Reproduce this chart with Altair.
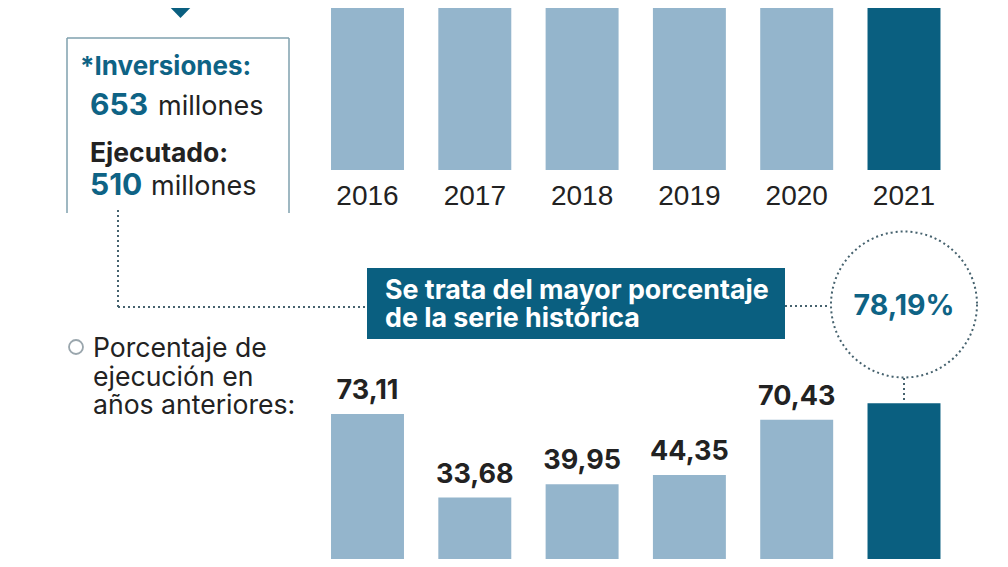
import altair as alt
import pandas as pd

# ---------------- data ----------------
years = ["2016", "2017", "2018", "2019", "2020", "2021"]
ejecucion = [73.11, 33.68, 39.95, 44.35, 70.43, 78.19]
ejec_labels = ["73,11", "33,68", "39,95", "44,35", "70,43", ""]
inversion = [650, 600, 640, 660, 640, 653]  # top bars are cut off in the picture (estimates)
tipo = ["anterior", "anterior", "anterior", "anterior", "anterior", "actual"]

LIGHT = "#94b5cc"
DARK = "#0a5f80"
TEAL = "#0e6385"
INK = "#222222"
DOT = "#46626e"
BOX = "#7fa0ae"

df = pd.DataFrame({"year": years, "ejec": ejecucion, "label": ejec_labels,
                   "inv": inversion, "tipo": tipo})

xscale = alt.Scale(type="band", domain=years, range=[305.85, 949.65],
                   paddingInner=0.32, paddingOuter=0.16, round=False)
yb_scale = alt.Scale(domain=[0, 80], range=[561, 391.4], zero=True, nice=False)
yt_scale = alt.Scale(domain=[0, 600], range=[162, -7], zero=True, nice=False)
color = alt.Color("tipo:N", scale=alt.Scale(domain=["anterior", "actual"], range=[LIGHT, DARK]), legend=None)
X = alt.X("year:N", scale=xscale, axis=None)

base = alt.Chart(df)

top_bars = base.mark_bar().encode(
    x=X, y=alt.Y("inv:Q", scale=yt_scale, axis=None), color=color)

year_text = base.mark_text(font="Liberation Sans", fontSize=28, color=INK,
                           baseline="alphabetic", align="center").encode(
    x=X, y=alt.value(197), text="year:N")

bottom_bars = base.mark_bar().encode(
    x=X, y=alt.Y("ejec:Q", scale=yb_scale, axis=None), color=color)

value_text = base.transform_filter(alt.datum.label != "").mark_text(
    font="Inter", fontWeight="bold", fontSize=27, color=INK,
    baseline="alphabetic", align="center", dy=-15).encode(
    x=X, y=alt.Y("ejec:Q", scale=yb_scale, axis=None), text="label:N")

last = base.transform_filter(alt.datum.tipo == "actual")
circle = last.mark_point(shape="circle", size=21316, filled=False, stroke=DOT,
                         strokeWidth=2, strokeDash=[2, 3], opacity=1).encode(
    x=X, y=alt.value(296.5))
pct_text = last.mark_text(font="Inter", fontWeight="bold", fontSize=28.5, color=TEAL,
                          baseline="alphabetic", align="center").encode(
    x=X, y=alt.value(307), text=alt.value("78,19%"))
vdot = last.mark_rule(color=DOT, strokeWidth=2, strokeDash=[2, 3]).encode(
    x=X, y=alt.value(370), y2=alt.value(395))

# ---------------- annotations ----------------
ann = pd.DataFrame({"k": [0]})
a = alt.Chart(ann)

def rule(x, y, x2=None, y2=None, col=DOT, w=2, dash=(2, 3)):
    enc = dict(x=alt.value(x), y=alt.value(y))
    if x2 is not None:
        enc["x2"] = alt.value(x2)
    if y2 is not None:
        enc["y2"] = alt.value(y2)
    kw = dict(color=col, strokeWidth=w)
    if dash:
        kw["strokeDash"] = list(dash)
    return a.mark_rule(**kw).encode(**enc)

def text(s, x, y, size, color=INK, weight="normal", font="Inter"):
    kw = dict(font=font, fontSize=size, color=color, fontWeight=weight,
              align="left", baseline="alphabetic")
    return a.mark_text(**kw).encode(x=alt.value(x), y=alt.value(y), text=alt.value(s))

triangle = a.mark_point(shape="M-1,-0.51L1,-0.51L0,0.51Z", size=1225, filled=True,
                        color=DARK, opacity=1).encode(x=alt.value(172.5), y=alt.value(1))

box = [
    rule(59, 30, y2=205, col=BOX, w=1.5, dash=None),
    rule(281, 30, y2=205, col=BOX, w=1.5, dash=None),
    rule(59, 30, x2=281, col=BOX, w=1.5, dash=None),
]

box_text = [
    text("*Inversiones:", 72, 67, 26, TEAL, "bold"),
    text("653", 82, 107, 30, TEAL, "bold"),
    text("millones", 150, 107, 27, INK),
    text("Ejecutado:", 82, 154, 26.5, INK, "bold"),
    text("510", 82, 187, 30, TEAL, "bold"),
    text("millones", 143, 187, 27, INK),
]

dotted = [
    rule(110, 202, y2=299),
    rule(110, 299, x2=359),
    rule(777, 298, x2=821),
]

banner = a.mark_rect(color=DARK).encode(
    x=alt.value(359), x2=alt.value(777), y=alt.value(260), y2=alt.value(331))
banner_lines = ["Se trata del mayor porcentaje", "de la serie histórica"]
banner_text = [text(s, 377, 291 + 28 * i, 26.8, "white", "bold")
               for i, s in enumerate(banner_lines)]

legend_dot = a.mark_point(shape="circle", size=196, filled=False, stroke="#9aa6ad",
                          strokeWidth=1.8, opacity=1).encode(x=alt.value(68), y=alt.value(339))
legend_lines = ["Porcentaje de", "ejecución en", "años anteriores:"]
legend_text = [text(s, 85, 349 + 28.5 * i, 26.6, INK) for i, s in enumerate(legend_lines)]

chart = alt.layer(
    top_bars, year_text, bottom_bars, value_text,
    *dotted, vdot, circle, pct_text,
    triangle, *box, *box_text, banner, *banner_text, legend_dot, *legend_text,
).resolve_scale(y="independent").properties(
    width=992, height=551,
    autosize=alt.AutoSizeParams(type="none"),
    padding=0, background="white",
).configure_view(stroke=None)

chart.save("out.html", embed_options={"renderer": "svg", "actions": False})
